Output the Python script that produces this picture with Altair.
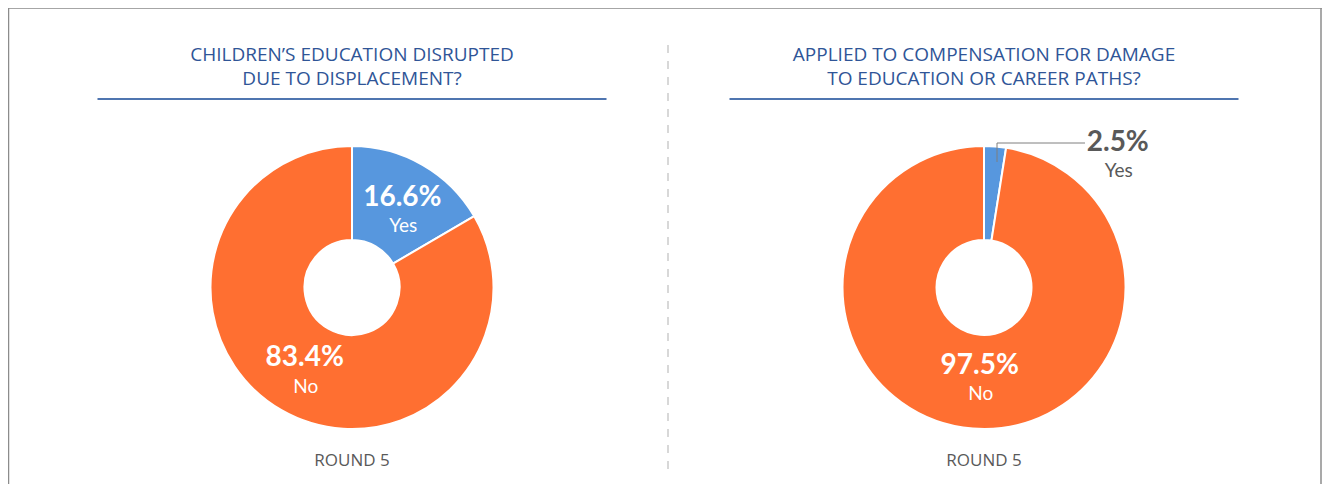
import altair as alt
import pandas as pd

# ---- data ----
categories = ["Yes", "No"]
left_values = [16.6, 83.4]
right_values = [2.5, 97.5]
left_title = ["CHILDREN\u2019S EDUCATION DISRUPTED", "DUE TO DISPLACEMENT?"]
right_title = ["APPLIED TO COMPENSATION FOR DAMAGE", "TO EDUCATION OR CAREER PATHS?"]
footer = "ROUND 5"

BLUE = "#5797DE"
ORANGE = "#FF6F31"
TITLE_BLUE = "#2F5597"
GRAY_TEXT = "#595959"
FONT = "Lato"
TITLE_FONT = "Open Sans"

W, H = 1314, 476
LCX, RCX, CY = 344, 976, 279.5

color_scale = alt.Scale(domain=categories, range=[BLUE, ORANGE])
theta_scale = alt.Scale(domain=[0, 100])


def donut_df(values):
    return pd.DataFrame({"cat": categories, "value": values, "idx": list(range(len(categories)))})


def stacked(base):
    return base.transform_stack(
        stack="value", groupby=[], as_=["v0", "v1"], sort=[alt.SortField("idx", order="ascending")]
    ).transform_calculate(mid="(datum.v0 + datum.v1) / 2")


def donut(values, cx, labels):
    base = alt.Chart(donut_df(values))
    arc = stacked(base).mark_arc(
        outerRadius=141.5, innerRadius=47.5, stroke="white", strokeWidth=2
    ).encode(
        theta=alt.Theta("v0:Q", scale=theta_scale, stack=None),
        theta2="v1:Q",
        color=alt.Color("cat:N", scale=color_scale, legend=None),
        x=alt.value(cx),
        y=alt.value(CY),
    )
    layers = [arc]
    for cat, radius, dx, dy_pct, dy_cat, col in labels:
        sub = stacked(base).transform_filter(alt.datum.cat == cat)
        pct = sub.transform_calculate(lbl="format(datum.value, '.1f') + '%'").mark_text(
            radius=radius, dx=dx, dy=dy_pct, font=FONT, fontSize=28, fontWeight="bold", color=col
        ).encode(
            theta=alt.Theta("mid:Q", scale=theta_scale, stack=None),
            text="lbl:N",
            x=alt.value(cx),
            y=alt.value(CY),
        )
        name = sub.mark_text(
            radius=radius, dx=dx + 1, dy=dy_cat, font=FONT, fontSize=19, color=col
        ).encode(
            theta=alt.Theta("mid:Q", scale=theta_scale, stack=None),
            text="cat:N",
            x=alt.value(cx),
            y=alt.value(CY),
        )
        layers += [pct, name]
    return layers


left_layers = donut(
    left_values, LCX,
    [("Yes", 105, -2, 2, 30, "white"), ("No", 95, 0, -12, 17, "white")],
)
right_layers = donut(
    right_values, RCX,
    [("No", 93, 3, -14, 14, "white"), ("Yes", 150, 122, 5, 33, GRAY_TEXT)],
)

one = alt.Chart(pd.DataFrame({"a": [0]}))

# frame (top, left, right)
frame = [
    one.mark_rule(color="#A6A6A6", strokeWidth=2).encode(x=alt.value(0), x2=alt.value(W), y=alt.value(0)),
    one.mark_rule(color="#8C8C8C", strokeWidth=1.5).encode(x=alt.value(0.5), y=alt.value(0), y2=alt.value(H)),
    one.mark_rule(color="#8C8C8C", strokeWidth=1.5).encode(x=alt.value(W - 1), y=alt.value(0), y2=alt.value(H)),
]

# dashed separator
sep = one.mark_rule(color="#BFBFBF", strokeWidth=1.2, strokeDash=[8, 8]).encode(
    x=alt.value(660), y=alt.value(37), y2=alt.value(462)
)

# titles + underline
titles = []
for lines, cx in [(left_title, LCX), (right_title, RCX)]:
    titles.append(
        one.mark_text(
            text=lines, lineHeight=24, baseline="alphabetic", align="center",
            font=TITLE_FONT, fontSize=19, color=TITLE_BLUE,
        ).encode(x=alt.value(cx), y=alt.value(53))
    )
    titles.append(
        one.mark_rule(color="#4F75B0", strokeWidth=2).encode(
            x=alt.value(cx - 254.5), x2=alt.value(cx + 254.5), y=alt.value(91)
        )
    )
    titles.append(
        one.mark_text(
            text=footer, font=TITLE_FONT, fontSize=17, color=GRAY_TEXT, align="center", baseline="middle"
        ).encode(x=alt.value(cx), y=alt.value(453))
    )

# leader line for the small slice
leader = [
    one.mark_rule(color="#7F7F7F", strokeWidth=1).encode(x=alt.value(989), y=alt.value(135), y2=alt.value(154)),
    one.mark_rule(color="#7F7F7F", strokeWidth=1).encode(x=alt.value(989), x2=alt.value(1077), y=alt.value(135)),
]

chart = alt.layer(
    *frame, sep, *titles, *left_layers, *right_layers, *leader
).properties(
    width=W, height=H, padding=0, autosize=alt.AutoSizeParams(type="none")
).configure_view(stroke=None)

chart.save("out.html", embed_options={"renderer": "svg", "actions": False})
